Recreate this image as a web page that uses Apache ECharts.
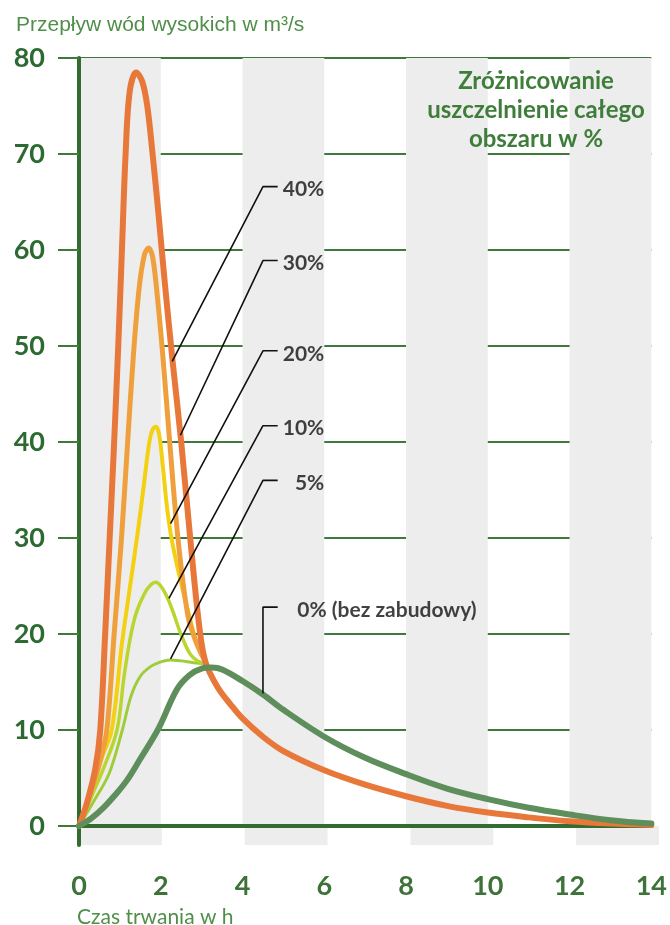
<!DOCTYPE html>
<html>
<head>
<meta charset="utf-8">
<script src="https://cdn.jsdelivr.net/npm/echarts@6/dist/echarts.min.js"></script>
<style>
html,body{margin:0;padding:0;background:#fff;}
#chart{width:670px;height:925px;}
</style>
</head>
<body>
<div id="chart"></div>
<script>
// ---- data (hours, m3/s) ----
const xTicks = [0, 2, 4, 6, 8, 10, 12, 14];
const yTicks = [0, 10, 20, 30, 40, 50, 60, 70, 80];
const seriesNames = ['40%', '30%', '20%', '10%', '5%', '0% (bez zabudowy)'];

const flow40 = [[0,0],[0.2,2.5],[0.4,6],[0.52,10],[0.64,20],[0.75,30],[0.86,40],[0.96,50],[1.05,60],[1.14,70],[1.24,76.5],[1.4,78.5],[1.55,77.5],[1.67,75],[1.8,70],[1.95,63.5],[2.1,56.5],[2.3,48],[2.5,40],[2.72,30],[2.95,20.5],[3.1,17],[3.4,14.4],[3.7,12.7],[4,11.2],[4.5,9.3],[5,7.8],[6,5.8],[7,4.3],[8,3.1],[9,2.1],[10,1.4],[11,0.9],[12,0.5],[13,0.25],[14,0.1]];
const flow30 = [[0,0],[0.25,3],[0.5,6.5],[0.68,10],[0.86,20],[1.04,30],[1.19,40],[1.33,49],[1.47,56],[1.6,59.5],[1.7,60.2],[1.8,59.3],[1.92,55],[2.05,49],[2.2,41],[2.42,30],[2.66,22],[2.86,19.2],[3.1,17]];
const flow20 = [[0,0],[0.3,3.5],[0.55,7],[0.8,10],[1.05,19],[1.25,25],[1.45,31],[1.6,36],[1.72,40],[1.8,41.3],[1.88,41.6],[1.96,40.8],[2.05,37.5],[2.15,33.3],[2.27,29.8],[2.48,25.6],[2.68,22.2],[2.88,19],[3.1,17]];
const flow10 = [[0,0],[0.3,3],[0.6,6],[0.93,10],[1.1,15.5],[1.25,19.5],[1.4,22.2],[1.6,24.2],[1.75,25.1],[1.88,25.4],[2.0,25],[2.15,23.9],[2.3,22.3],[2.5,19.9],[2.72,17.9],[2.9,17.2],[3.1,16.9]];
const flow5 = [[0,0],[0.35,2.5],[0.74,5.5],[1.06,10],[1.27,13.5],[1.5,15.6],[1.75,16.6],[2.0,17.1],[2.23,17.3],[2.5,17.2],[2.8,17.0],[3.1,16.9]];
const flow0 = [[0,0],[0.3,0.8],[0.62,2.0],[0.9,3.3],[1.18,4.8],[1.5,7],[1.95,10.2],[2.39,14.2],[2.7,15.7],[3.0,16.4],[3.25,16.5],[3.5,16.3],[4,15.1],[4.5,13.7],[5,12.1],[6,9.3],[7,7.1],[8,5.4],[9,3.9],[10,2.8],[11,1.9],[12,1.2],[13,0.6],[14,0.25]];

// callout leader lines (data coordinates)
const calloutFrom = [[2.28,48.4],[2.48,40.7],[2.24,31.5],[2.2,23.7],[2.24,17.4],[4.5,13.8]];
const calloutElbowY = [66.6, 58.9, 49.5, 41.7, 36.0, 22.8];
const calloutElbowX = 4.5;
const calloutEndX = 4.86;
const calloutTextX = [6, 6, 6, 6, 6, 5.34];

// ---- styling ----
const colors = ['#E8783A', '#EFA03D', '#F3D012', '#B9D530', '#9FCC3B', '#5E8E5B'];
const widths = [6, 5, 4, 3.5, 3, 6];
const flows = [flow40, flow30, flow20, flow10, flow5, flow0];
const zOrder = [7, 6, 5, 4, 3, 8];
const axisGreen = '#336B30';
const gridGreen = '#3E7A3A';
const band = ['#EDEDED', 'rgba(255,255,255,0)'];

const chart = echarts.init(document.getElementById('chart'), null, {renderer: 'canvas'});

const curveSeries = flows.map((d, i) => ({
  name: seriesNames[i],
  type: 'line',
  xAxisIndex: 0, yAxisIndex: 0,
  data: d,
  smooth: 0.35,
  showSymbol: false,
  silent: true,
  z: zOrder[i],
  lineStyle: {color: colors[i], width: widths[i], cap: 'round', join: 'round'}
}));

const leaderSeries = calloutFrom.map((p, i) => ({
  type: 'line',
  xAxisIndex: 0, yAxisIndex: 0,
  data: [p, [calloutElbowX, calloutElbowY[i]], [calloutEndX, calloutElbowY[i]]],
  showSymbol: false,
  silent: true,
  z: 10,
  lineStyle: {color: '#111', width: 1.6}
}));

const labelSeries = {
  type: 'scatter',
  xAxisIndex: 0, yAxisIndex: 0,
  symbolSize: 0,
  silent: true,
  z: 11,
  data: seriesNames.map((t, i) => ({
    value: [calloutTextX[i], calloutElbowY[i], t],
    label: {align: i === 5 ? 'left' : 'right'}
  })),
  label: {
    show: true,
    position: [0, 0],
    verticalAlign: 'middle',
    offset: [0, 3],
    formatter: p => p.value[2],
    fontFamily: 'Lato',
    fontWeight: 'bold',
    fontSize: 21,
    color: '#111'
  }
};

const option = {
  animation: false,
  backgroundColor: '#fff',
  textStyle: {fontFamily: 'Lato'},
  title: [
    {text: 'Przepływ wód wysokich w m³/s', left: 11, top: 10,
     textStyle: {fontFamily: 'Liberation Sans', fontSize: 21, fontWeight: 'normal', color: '#4F8F49'}},
    {text: 'Zróżnicowanie\nuszczelnienie całego\nobszaru w %', left: 531, top: 62, textAlign: 'center',
     textStyle: {fontFamily: 'Lato', fontSize: 24, fontWeight: 'bold', color: '#3F7D3A', lineHeight: 29, align: 'center'}},
    {text: 'Czas trwania w h', left: 72, top: 902,
     textStyle: {fontFamily: 'Lato', fontSize: 21, fontWeight: 'normal', color: '#4F8F49'}}
  ],
  grid: [
    {left: 79, right: 11, top: 58, bottom: 99},
    {left: 79, right: 11, top: 826, height: 19}
  ],
  xAxis: [
    {type: 'value', gridIndex: 0, min: xTicks[0], max: xTicks[xTicks.length - 1], interval: 2,
     axisLine: {show: true, onZero: false, lineStyle: {color: axisGreen, width: 4}},
     axisTick: {show: false},
     axisLabel: {margin: 47, fontSize: 27, fontFamily: 'Lato', fontWeight: 'bold', color: '#3D7238'},
     splitLine: {show: false},
     splitArea: {show: true, areaStyle: {color: band}}},
    {type: 'value', gridIndex: 1, min: xTicks[0], max: xTicks[xTicks.length - 1], interval: 2,
     axisLine: {show: false}, axisTick: {show: false}, axisLabel: {show: false},
     splitLine: {show: false},
     splitArea: {show: true, areaStyle: {color: band}}}
  ],
  yAxis: [
    {type: 'value', gridIndex: 0, min: yTicks[0], max: yTicks[yTicks.length - 1], interval: 10,
     axisLine: {show: true, onZero: false, lineStyle: {color: axisGreen, width: 4}},
     axisTick: {show: true, inside: false, length: 21, lineStyle: {color: gridGreen, width: 2}},
     axisLabel: {margin: 34, fontSize: 27, fontFamily: 'Lato', fontWeight: 'bold', color: '#2D6A32'},
     splitLine: {show: true, lineStyle: {color: gridGreen, width: 2}}},
    {type: 'value', gridIndex: 1, min: 0, max: 1,
     axisLine: {show: true, onZero: false, lineStyle: {color: axisGreen, width: 4}},
     axisTick: {show: false}, axisLabel: {show: false}, splitLine: {show: false}}
  ],
  series: [...curveSeries, ...leaderSeries, labelSeries]
};

chart.setOption(option);
</script>
</body>
</html>
